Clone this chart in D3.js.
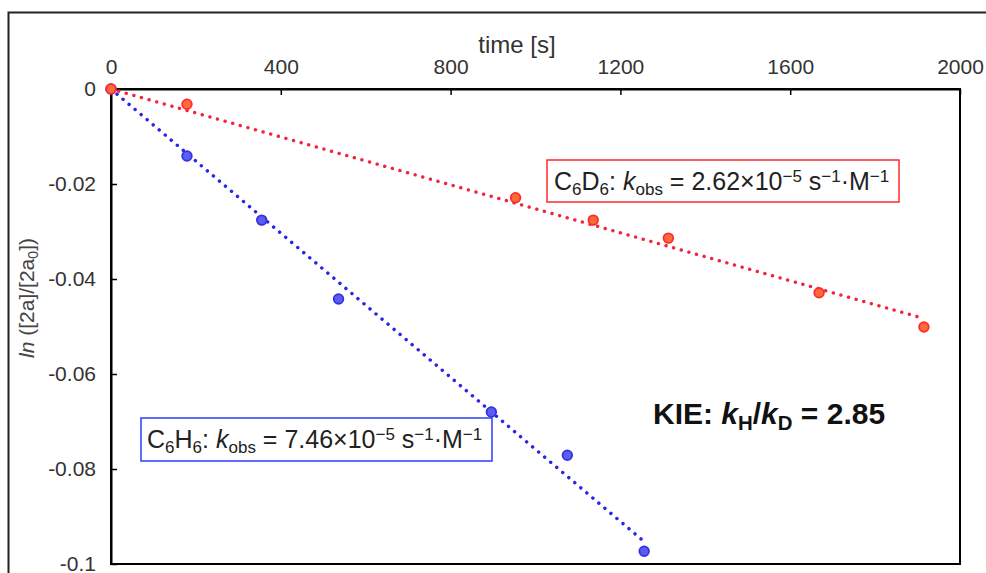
<!DOCTYPE html>
<html>
<head>
<meta charset="utf-8">
<script src="https://cdn.jsdelivr.net/npm/d3@7"></script>
<style>
  body { margin: 0; background: #fff; }
  svg { display: block; font-family: "Liberation Sans", Arial, sans-serif; }
</style>
</head>
<body>
<svg id="chart" width="986" height="573"></svg>
<script>
// kinetic runs: time [s] vs ln([2a]/[2a0])
const timeC6D6 = [0, 179, 953, 1136, 1313, 1668, 1915];
const lnC6D6 = [0, -0.0032, -0.0229, -0.0276, -0.0314, -0.0429, -0.0501];
const timeC6H6 = [0, 179, 355, 536, 896, 1075, 1256];
const lnC6H6 = [0, -0.0141, -0.0276, -0.0442, -0.0680, -0.0771, -0.0973];
const xTicks = [0, 400, 800, 1200, 1600, 2000];
const yTicks = [0, -0.02, -0.04, -0.06, -0.08, -0.1];

const svg = d3.select('#chart');
const x = d3.scaleLinear().domain([0, 2000]).range([111, 960]);
const y = d3.scaleLinear().domain([0, -0.1]).range([89, 564]);

// outer frame
svg.append('rect')
  .attr('x', 8.5).attr('y', 12.5).attr('width', 1000).attr('height', 600)
  .attr('fill', 'none').attr('stroke', '#222').attr('stroke-width', 2);

// plot box
svg.append('rect')
  .attr('x', x(0)).attr('y', y(0))
  .attr('width', x(2000) - x(0)).attr('height', y(-0.1) - y(0))
  .attr('fill', 'none').attr('stroke', '#000').attr('stroke-width', 2);

// axes (time on top, ticks inside)
const xAxis = d3.axisTop(x).tickValues(xTicks).tickSizeInner(-6).tickSizeOuter(0).tickPadding(15)
  .tickFormat(d3.format('d'));
const gx = svg.append('g').attr('transform', `translate(0,${y(0)})`).call(xAxis);
const yAxis = d3.axisLeft(y).tickValues(yTicks).tickSizeInner(-6).tickSizeOuter(0).tickPadding(15)
  .tickFormat(d => d === 0 ? '0' : d3.format('.2~f')(d).replace('−', '-'));
const gy = svg.append('g').attr('transform', `translate(${x(0)},0)`).call(yAxis);
[gx, gy].forEach(g => {
  g.attr('font-size', null).attr('font-family', null);
  g.select('.domain').attr('stroke', '#000').attr('stroke-width', 2);
  g.selectAll('.tick line').attr('stroke', '#000').attr('stroke-width', 1.5);
  g.selectAll('.tick text').style('font-size', '21px').attr('fill', '#333');
});

// rich text helper: parts {t, sub, sup, it}
function rich(sel, px, py, parts, size) {
  const t = sel.append('text').attr('x', px).attr('y', py).style('font-size', size + 'px');
  let shift = 0;
  parts.forEach(p => {
    const target = p.sub ? size * 0.2 : p.sup ? -size * 0.34 : 0;
    const ts = t.append('tspan').text(p.t).attr('dy', target - shift);
    if (p.sub || p.sup) ts.style('font-size', (size * 0.68) + 'px');
    if (p.it) ts.attr('font-style', 'italic');
    shift = target;
  });
  return t;
}

// axis titles
svg.append('text').attr('x', 517).attr('y', 53).attr('text-anchor', 'middle')
  .style('font-size', '24px').attr('fill', '#333').text('time [s]');
rich(svg.append('g').attr('transform', 'translate(34,298) rotate(-90)'), 0, 0,
  [{ t: 'ln', it: true }, { t: ' ([2a]/[2a' }, { t: '0', sub: true }, { t: '])' }], 21)
  .attr('text-anchor', 'middle').attr('fill', '#444');

// fitted lines through origin
function fitSlope(ts, ys) {
  return d3.sum(ts, (t, i) => t * ys[i]) / d3.sum(ts, t => t * t);
}
const series = [
  { t: timeC6H6, v: lnC6H6, line: '#2626e6', fill: '#5c5cf2', stroke: '#3232e0' },
  { t: timeC6D6, v: lnC6D6, line: '#f2253f', fill: '#ff6a3a', stroke: '#ff2a2a' }
];
const line = d3.line().x(d => x(d[0])).y(d => y(d[1]));
series.forEach(s => {
  const k = fitSlope(s.t, s.v);
  const tMax = d3.max(s.t);
  svg.append('path').datum([[0, 0], [tMax, k * tMax]])
    .attr('d', line).attr('fill', 'none').attr('stroke', s.line)
    .attr('stroke-width', 3.4).attr('stroke-linecap', 'round')
    .attr('stroke-dasharray', '0.1 7.8');
  svg.append('g').selectAll('circle').data(s.t.map((t, i) => [t, s.v[i]]))
    .enter().append('circle')
    .attr('cx', d => x(d[0])).attr('cy', d => y(d[1])).attr('r', 4.8)
    .attr('fill', s.fill).attr('stroke', s.stroke).attr('stroke-width', 1.8);
});

// annotation boxes
svg.append('rect').attr('x', 547).attr('y', 160).attr('width', 352).attr('height', 42)
  .attr('fill', '#fff').attr('stroke', '#ff2a2a').attr('stroke-width', 1.5);
rich(svg, 554, 190, [
  { t: 'C' }, { t: '6', sub: true }, { t: 'D' }, { t: '6', sub: true }, { t: ': ' },
  { t: 'k', it: true }, { t: 'obs', sub: true }, { t: ' = 2.62×10' }, { t: '−5', sup: true },
  { t: ' s' }, { t: '−1', sup: true }, { t: '·M' }, { t: '−1', sup: true }
], 25).attr('fill', '#222');

svg.append('rect').attr('x', 141).attr('y', 418).attr('width', 351).attr('height', 43)
  .attr('fill', '#fff').attr('stroke', '#2a3cff').attr('stroke-width', 1.5);
rich(svg, 147, 448, [
  { t: 'C' }, { t: '6', sub: true }, { t: 'H' }, { t: '6', sub: true }, { t: ': ' },
  { t: 'k', it: true }, { t: 'obs', sub: true }, { t: ' = 7.46×10' }, { t: '−5', sup: true },
  { t: ' s' }, { t: '−1', sup: true }, { t: '·M' }, { t: '−1', sup: true }
], 25).attr('fill', '#222');

rich(svg, 653, 424, [
  { t: 'KIE: ' }, { t: 'k', it: true }, { t: 'H', sub: true }, { t: '/' },
  { t: 'k', it: true }, { t: 'D', sub: true }, { t: ' = 2.85' }
], 30).attr('font-weight', 'bold').attr('fill', '#111');
</script>
</body>
</html>
